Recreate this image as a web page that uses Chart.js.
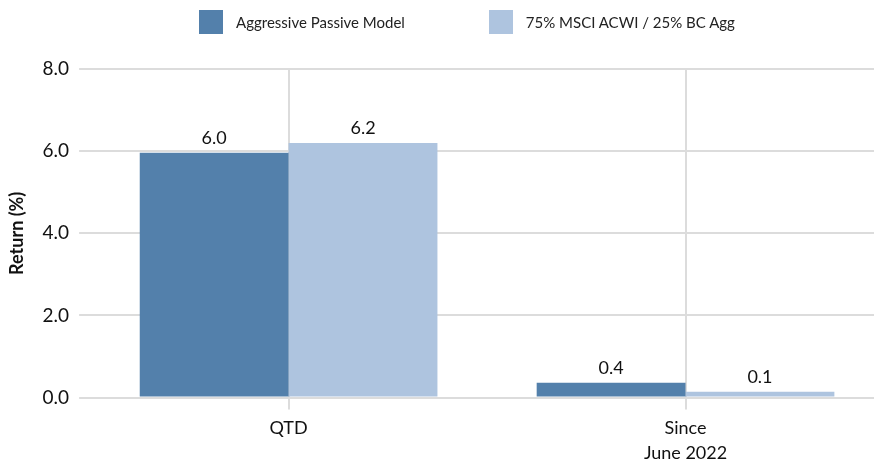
<!DOCTYPE html>
<html>
<head>
<meta charset="utf-8">
<script src="https://cdn.jsdelivr.net/npm/chart.js@4.4.1/dist/chart.umd.min.js"></script>
<style>
  html, body { margin: 0; padding: 0; background: #fff; overflow: hidden; }
  #wrap { position: relative; width: 921px; height: 472px; }
  #legend { position: absolute; left: 199px; top: 10px; display: flex; font-family: Lato, sans-serif; font-size: 15px; color: #222; }
  .item { display: flex; align-items: center; height: 24px; }
  .item + .item { margin-left: 84px; }
  .swatch { width: 24px; height: 24px; margin-right: 13px; }
</style>
</head>
<body>
<div id="wrap">
  <div id="legend"></div>
  <canvas id="chart" width="921" height="472"></canvas>
</div>
<script>
const categories = ['QTD', ['Since', 'June 2022']];
const seriesNames = ['Aggressive Passive Model', '75% MSCI ACWI / 25% BC Agg'];
const modelValues = [5.96, 0.36];
const benchValues = [6.2, 0.14];
const yTicks = [0, 2, 4, 6, 8];
const colors = ['#5380AB', '#AEC4DF'];

// etiquetas de valor acima das barras
const valueLabels = {
  id: 'valueLabels',
  afterDatasetsDraw(chart) {
    const ctx = chart.ctx;
    ctx.save();
    ctx.font = '18px Lato, sans-serif';
    ctx.fillStyle = '#111';
    ctx.textAlign = 'center';
    ctx.textBaseline = 'bottom';
    chart.data.datasets.forEach((ds, i) => {
      chart.getDatasetMeta(i).data.forEach((bar, j) => {
        ctx.fillText(ds.data[j].toFixed(1), bar.x, bar.y - 6);
      });
    });
    ctx.restore();
  }
};

const chart = new Chart(document.getElementById('chart'), {
  type: 'bar',
  data: {
    labels: categories,
    datasets: [
      { label: seriesNames[0], data: modelValues, backgroundColor: colors[0] },
      { label: seriesNames[1], data: benchValues, backgroundColor: colors[1] }
    ]
  },
  options: {
    responsive: false,
    animation: false,
    layout: { padding: { top: 69, right: 37, left: 6, bottom: 0 } },
    datasets: { bar: { barPercentage: 1, categoryPercentage: 0.75 } },
    plugins: { legend: { display: false }, tooltip: { enabled: false } },
    scales: {
      x: {
        grid: { offset: false, color: '#DCDCDC', lineWidth: 2, tickLength: 12 },
        border: { display: false },
        ticks: { color: '#111', font: { family: 'Lato', size: 18, lineHeight: 1.4 }, padding: 6 }
      },
      y: {
        min: 0,
        max: 8,
        afterBuildTicks(scale) { scale.ticks = yTicks.map(v => ({ value: v })); },
        grid: { color: '#DCDCDC', lineWidth: 2, tickLength: 11 },
        border: { display: false },
        ticks: {
          color: '#111',
          font: { family: 'Lato', size: 19 },
          padding: 10,
          callback: v => v.toFixed(1)
        },
        title: {
          display: true,
          text: 'Return (%)',
          color: '#111',
          font: { family: 'Lato', size: 18, weight: 'bold' },
          padding: { top: 0, bottom: 5 }
        }
      }
    }
  },
  plugins: [valueLabels]
});

// legenda em HTML
document.getElementById('legend').innerHTML = chart.data.datasets.map(ds =>
  `<div class="item"><span class="swatch" style="background:${ds.backgroundColor}"></span>${ds.label}</div>`
).join('');
</script>
</body>
</html>
